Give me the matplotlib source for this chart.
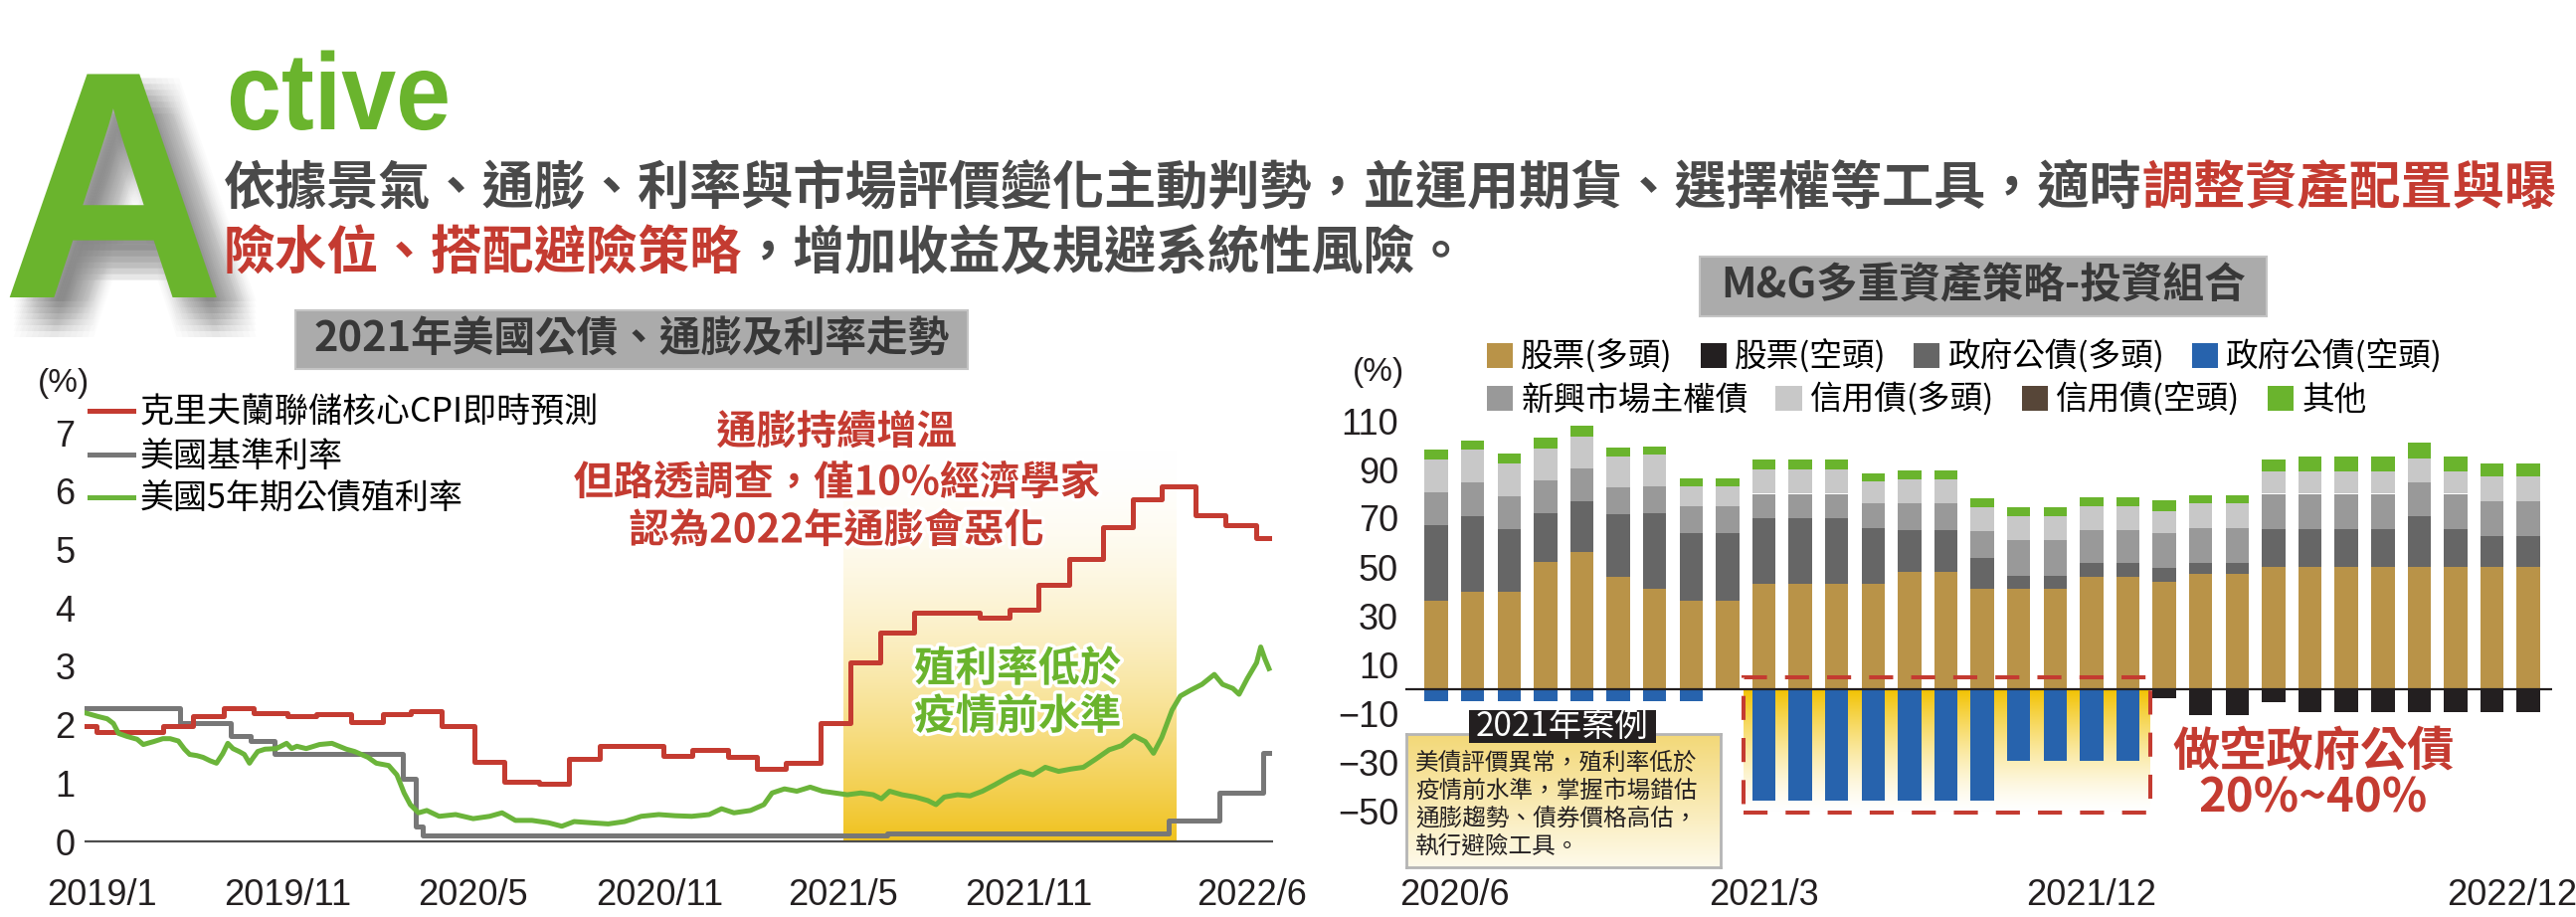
#!/usr/bin/env python3
"""Active management page: US inflation / rates chart and M&G multi-asset allocation bars."""

import numpy as np
import pandas as pd
import matplotlib
matplotlib.use("Agg")
import matplotlib.pyplot as plt
import matplotlib.dates as mdates
import matplotlib.patheffects as pe
from matplotlib.patches import Rectangle
from matplotlib.transforms import Affine2D
from matplotlib.colors import to_rgb, to_rgba

W, H = 2590, 922
CJK = ["Noto Sans CJK TC", "DejaVu Sans"]
NUM = ["Liberation Sans", "DejaVu Sans"]

GREEN = "#6AB42D"
RED = "#C43B31"
DARK = "#4A4A4A"
INK = "#231F20"

# ---- left chart data -------------------------------------------------------
cpi_nowcast = [  # Cleveland Fed core CPI nowcast, monthly steps
    ("2019-05-01", 1.98), ("2019-05-12", 1.88), ("2019-07-15", 1.97), ("2019-08-13", 2.15),
    ("2019-09-12", 2.28), ("2019-10-11", 2.20), ("2019-11-13", 2.14), ("2019-12-11", 2.18),
    ("2020-01-14", 2.05), ("2020-02-13", 2.18), ("2020-03-11", 2.24), ("2020-04-10", 1.98),
    ("2020-05-12", 1.37), ("2020-06-10", 1.02), ("2020-07-14", 0.99), ("2020-08-12", 1.41),
    ("2020-09-11", 1.64), ("2020-10-13", 1.63), ("2020-11-12", 1.46), ("2020-12-10", 1.57),
    ("2021-01-13", 1.44), ("2021-02-10", 1.25), ("2021-03-10", 1.35), ("2021-04-13", 2.03),
    ("2021-05-12", 3.06), ("2021-06-10", 3.57), ("2021-07-13", 3.91), ("2021-09-14", 3.84),
    ("2021-10-13", 3.97), ("2021-11-10", 4.40), ("2021-12-10", 4.84), ("2022-01-12", 5.39),
    ("2022-02-10", 5.86), ("2022-03-10", 6.09), ("2022-04-12", 5.59), ("2022-05-11", 5.41),
    ("2022-06-10", 5.19), ("2022-06-22", 5.19),
]
fed_funds = [
    ("2019-05-01", 2.29), ("2019-08-01", 2.03), ("2019-09-19", 1.80), ("2019-10-08", 1.72),
    ("2019-10-31", 1.50), ("2020-03-04", 1.07), ("2020-03-16", 0.25), ("2020-03-23", 0.10),
    ("2021-06-17", 0.13), ("2022-03-17", 0.36), ("2022-05-05", 0.83), ("2022-06-16", 1.52),
    ("2022-06-22", 1.52),
]
ust5y = [
    ("2019-05-01", 2.20), ("2019-05-13", 2.14), ("2019-05-22", 2.10), ("2019-05-28", 2.02),
    ("2019-06-02", 1.85), ("2019-06-10", 1.80), ("2019-06-20", 1.75), ("2019-06-26", 1.66),
    ("2019-07-06", 1.71), ("2019-07-15", 1.76), ("2019-07-22", 1.76), ("2019-07-30", 1.72),
    ("2019-08-05", 1.58), ("2019-08-10", 1.49), ("2019-08-17", 1.47), ("2019-08-23", 1.44),
    ("2019-08-30", 1.38), ("2019-09-05", 1.34), ("2019-09-11", 1.50), ("2019-09-16", 1.68),
    ("2019-09-21", 1.59), ("2019-09-27", 1.54), ("2019-10-02", 1.49), ("2019-10-07", 1.34),
    ("2019-10-10", 1.42), ("2019-10-15", 1.54), ("2019-10-22", 1.58), ("2019-11-02", 1.59),
    ("2019-11-12", 1.68), ("2019-11-17", 1.59), ("2019-11-22", 1.63), ("2019-12-01", 1.59),
    ("2019-12-14", 1.66), ("2019-12-26", 1.68), ("2020-01-09", 1.58), ("2020-01-17", 1.54),
    ("2020-01-30", 1.44), ("2020-02-07", 1.34), ("2020-02-19", 1.30), ("2020-02-27", 1.14),
    ("2020-03-05", 0.83), ("2020-03-11", 0.63), ("2020-03-19", 0.49), ("2020-03-27", 0.53),
    ("2020-04-08", 0.43), ("2020-04-24", 0.46), ("2020-05-11", 0.39), ("2020-05-27", 0.43),
    ("2020-06-08", 0.49), ("2020-06-21", 0.36), ("2020-07-07", 0.36), ("2020-07-23", 0.32),
    ("2020-08-05", 0.26), ("2020-08-17", 0.34), ("2020-09-02", 0.32), ("2020-09-19", 0.30),
    ("2020-10-05", 0.34), ("2020-10-21", 0.43), ("2020-11-07", 0.46), ("2020-11-23", 0.44),
    ("2020-12-09", 0.43), ("2020-12-26", 0.46), ("2021-01-07", 0.56), ("2021-01-19", 0.49),
    ("2021-02-04", 0.53), ("2021-02-17", 0.63), ("2021-02-25", 0.83), ("2021-03-09", 0.90),
    ("2021-03-21", 0.86), ("2021-04-03", 0.93), ("2021-04-15", 0.86), ("2021-04-27", 0.83),
    ("2021-05-09", 0.80), ("2021-05-22", 0.83), ("2021-06-03", 0.80), ("2021-06-11", 0.73),
    ("2021-06-19", 0.86), ("2021-07-01", 0.80), ("2021-07-14", 0.76), ("2021-07-26", 0.70),
    ("2021-08-03", 0.63), ("2021-08-11", 0.76), ("2021-08-24", 0.80), ("2021-09-05", 0.78),
    ("2021-09-17", 0.86), ("2021-09-29", 0.97), ("2021-10-12", 1.10), ("2021-10-24", 1.20),
    ("2021-11-05", 1.14), ("2021-11-17", 1.27), ("2021-11-30", 1.20), ("2021-12-12", 1.24),
    ("2021-12-24", 1.27), ("2022-01-05", 1.41), ("2022-01-18", 1.57), ("2022-01-30", 1.64),
    ("2022-02-11", 1.81), ("2022-02-22", 1.71), ("2022-03-02", 1.51), ("2022-03-10", 1.78),
    ("2022-03-20", 2.25), ("2022-03-28", 2.49), ("2022-04-07", 2.59), ("2022-04-18", 2.69),
    ("2022-04-30", 2.86), ("2022-05-08", 2.69), ("2022-05-18", 2.62), ("2022-05-24", 2.52),
    ("2022-06-01", 2.79), ("2022-06-10", 3.06), ("2022-06-14", 3.33), ("2022-06-18", 3.13),
    ("2022-06-22", 2.96),
]
left_labels = ["克里夫蘭聯儲核心CPI即時預測", "美國基準利率", "美國5年期公債殖利率"]
left_xticklabels = ["2019/1", "2019/11", "2020/5", "2020/11", "2021/5", "2021/11", "2022/6"]
highlight_span = ("2021-05-05", "2022-03-24")

# ---- right chart data -------------------------------------------------------
months = [f"{p.year}/{p.month}" for p in pd.period_range("2020-06", "2022-12", freq="M")]
equity_long = [36, 40, 40, 52, 56, 46, 41, 36, 36, 43, 43, 43, 43, 48, 48, 41, 41, 41, 46, 46,
               44, 47, 47, 50, 50, 50, 50, 50, 50, 50, 50]
gov_long = [31, 31, 25.5, 20, 21, 25.5, 31, 28, 28, 27, 27, 27, 23, 17, 17, 12.5, 5.5, 5.5, 5.5, 5.5,
            5.5, 4.5, 4.5, 15.5, 15.5, 15.5, 15.5, 21, 15.5, 12.5, 12.5]
em_sovereign = [13.5, 13.5, 13.5, 13.5, 13.5, 11, 11, 11, 11, 10, 10, 10, 10, 11, 11, 11, 14.5, 14.5,
                13.5, 13.5, 14.5, 14.5, 14.5, 14.5, 14.5, 14.5, 14.5, 13.5, 14.5, 14.5, 14.5]
credit_long = [13.5, 13.5, 13.5, 13, 13, 13, 13, 8, 8, 10, 10, 10, 9, 10, 10, 10, 10, 10, 10, 10,
               9, 10, 10, 9, 9, 9, 9, 10, 9, 10, 10]
other = [4, 4, 4, 4.5, 4.5, 3.5, 3.5, 3.5, 3.5, 4, 4, 4, 3.5, 3.5, 3.5, 3.5, 3.5, 3.5, 3.5, 3.5,
         4.5, 3.5, 3.5, 5, 6.5, 6.5, 6.5, 6.5, 6.5, 5.5, 5.5]
gov_short = [-5, -5, -5, -5, -5, -5, -5, -5, 0, -46, -46, -46, -46, -46, -46, -46,
             -29.5, -29.5, -29.5, -29.5, 0, 0, 0, 0, 0, 0, 0, 0, 0, 0, 0]
equity_short = [0, 0, 0, 0, 0, 0, 0, 0, 0, 0, 0, 0, 0, 0, 0, 0, 0, 0, 0, 0,
                -4, -11, -11, -5.5, -9.5, -9.5, -9.5, -9.5, -9.5, -9.5, -9.5]
credit_short = [0] * 31
right_yticks = [110, 90, 70, 50, 30, 10, -10, -30, -50]
right_xticklabels = ["2020/6", "2021/3", "2021/12", "2022/12"]

row1_labels = ["股票(多頭)", "股票(空頭)", "政府公債(多頭)", "政府公債(空頭)"]
row2_labels = ["新興市場主權債", "信用債(多頭)", "信用債(空頭)", "其他"]

body_line1 = [("依據景氣、通膨、利率與市場評價變化主動判勢，並運用期貨、選擇權等工具，適時", DARK),
              ("調整資產配置與曝", RED)]
body_line2 = [("險水位、搭配避險策略", RED), ("，增加收益及規避系統性風險。", DARK)]
note_lines = ["美債評價異常，殖利率低於", "疫情前水準，掌握市場錯估",
              "通膨趨勢、債券價格高估，", "執行避險工具。"]


class Squeeze(pe.AbstractPathEffect):
    """Draw glyphs narrowed horizontally about x0 (display px), optionally recoloured."""

    def __init__(self, sx, x0, offset=(0, 0), color=None, alpha=None):
        super().__init__(offset)
        self.sx, self.x0, self.color, self.alpha = sx, x0, color, alpha

    def draw_path(self, renderer, gc, tpath, affine, rgbFace=None):
        squeeze = Affine2D().translate(-self.x0, 0).scale(self.sx, 1).translate(self.x0, 0)
        gc0 = renderer.new_gc()
        gc0.copy_properties(gc)
        face = rgbFace
        if self.color is not None:
            face = to_rgba(self.color)
        if self.alpha is not None:
            gc0.set_alpha(self.alpha)
        renderer.draw_path(gc0, tpath, affine + squeeze + self._offset_transform(renderer), face)
        gc0.restore()


def fx(px):
    return px / W


def fy(py):
    return 1 - py / H


def px_axes(x0, y0, x1, y1):
    return fig.add_axes([x0 / W, 1 - y1 / H, (x1 - x0) / W, (y1 - y0) / H])


def gray_box(x0, y0, x1, y1, text, size):
    fig.add_artist(Rectangle((fx(x0), fy(y1)), (x1 - x0) / W, (y1 - y0) / H,
                             transform=fig.transFigure, facecolor="#ABABAB", edgecolor="#C4C4C4", lw=1.5))
    fig.text(fx((x0 + x1) / 2), fy((y0 + y1) / 2), text, family=CJK, weight="bold", fontsize=size,
             color="#383838", ha="center", va="center")


def colored_line(x, y, parts, size):
    renderer = fig.canvas.get_renderer()
    for s, c in parts:
        t = fig.text(fx(x), fy(y), s, color=c, fontsize=size, family=CJK, weight="bold",
                     ha="left", va="center")
        x = t.get_window_extent(renderer=renderer).x1


fig = plt.figure(figsize=(W / 100, H / 100), dpi=100)
fig.patch.set_facecolor("white")

# ---- header ------------------------------------------------------------------
A_X, A_SQ = 2, 0.95
shadow = [Squeeze(A_SQ, A_X, offset=(dx * 0.72, -dy * 0.72), color="#5A5A5A", alpha=0.02)
          for dx in range(4, 46, 6) for dy in range(4, 46, 6)]
fig.text(fx(A_X), fy(299), "A", family=NUM, weight="bold", fontsize=235, color=GREEN,
         ha="left", va="baseline", path_effects=shadow + [Squeeze(A_SQ, A_X)])
fig.text(fx(228), fy(130), "ctive", family=NUM, weight="bold", fontsize=79, color=GREEN,
         ha="left", va="baseline", path_effects=[Squeeze(0.9, 228)])
colored_line(225, 189, body_line1, 37.5)
colored_line(225, 255, body_line2, 37.5)

gray_box(297, 312, 973, 371, "2021年美國公債、通膨及利率走勢", 30)
gray_box(1709, 258, 2279, 318, "M&G多重資產策略-投資組合", 30)

# ---- left chart ----------------------------------------------------------------
axL = px_axes(85, 846 - 8.0 * 58.7, 1280, 846 + 0.2 * 58.7)
for s in axL.spines.values():
    s.set_visible(False)

x0, x1 = mdates.date2num(pd.Timestamp(highlight_span[0])), mdates.date2num(pd.Timestamp(highlight_span[1]))
yy = np.linspace(0, 1, 256)[:, None, None]
w = (1 - yy) ** 1.8
band = np.ones((256, 1, 3)) * (1 - w) + np.array(to_rgb("#F0C21E")) * w
axL.imshow(band, origin="lower", extent=(x0, x1, 0, 6.7), aspect="auto", zorder=1,
           interpolation="bilinear")

ffr_x = pd.to_datetime([d for d, _ in fed_funds])
cpi_x = pd.to_datetime([d for d, _ in cpi_nowcast])
y5_x = pd.to_datetime([d for d, _ in ust5y])
l_ffr, = axL.step(ffr_x, [v for _, v in fed_funds], where="post", color="#777777", lw=3.6, zorder=3)
l_cpi, = axL.step(cpi_x, [v for _, v in cpi_nowcast], where="post", color=RED, lw=3.6, zorder=4)
l_y5, = axL.plot(y5_x, [v for _, v in ust5y], color="#6BB43A", lw=3.6, zorder=5)
axL.axhline(0, color="#4D4D4D", lw=1.6, zorder=6)

axL.set_xlim(pd.Timestamp("2019-04-30"), pd.Timestamp("2022-06-26"))
axL.set_ylim(-0.2, 8.0)
axL.set_yticks(range(0, 8))
tick_dates = pd.to_datetime(["2019-05-17", "2019-11-13", "2020-05-11", "2020-11-08",
                             "2021-05-05", "2021-11-01", "2022-06-05"])
axL.set_xticks(tick_dates)
axL.set_xticklabels(left_xticklabels)
axL.tick_params(axis="both", length=0, labelsize=26, labelcolor=INK)
axL.tick_params(axis="y", pad=7)
axL.tick_params(axis="x", pad=18)
for lab in axL.get_xticklabels() + axL.get_yticklabels():
    lab.set_family(NUM)

axL.legend([l_cpi, l_ffr, l_y5], left_labels, loc="upper left", bbox_to_anchor=(fx(90), fy(398)),
           bbox_transform=fig.transFigure, frameon=False, prop=dict(family=CJK, size=24.5),
           handlelength=1.3, handletextpad=0.2, labelspacing=0.25, borderpad=0, borderaxespad=0)
fig.text(fx(64), fy(385), "(%)", family=NUM, fontsize=24, color=INK, ha="center", va="center")

glow = [pe.withStroke(linewidth=5, foreground="white")]
for txt, yc in zip(["通膨持續增溫", "但路透調查，僅10%經濟學家", "認為2022年通膨會惡化"], [435, 486, 534]):
    fig.text(fx(841), fy(yc), txt, family=CJK, weight="bold", fontsize=29, color=RED,
             ha="center", va="center", path_effects=glow)
for txt, yc in zip(["殖利率低於", "疫情前水準"], [673, 721]):
    fig.text(fx(1023), fy(yc), txt, family=CJK, weight="bold", fontsize=30, color="#6AB42D",
             ha="center", va="center", path_effects=glow)

# ---- right chart ---------------------------------------------------------------
axR = px_axes(1413, 692.5 - 118 * 2.45, 2566, 692.5 + 60 * 2.45)
for s in axR.spines.values():
    s.set_visible(False)
x = np.arange(len(months))
bw = 0.64

yy = np.linspace(0, 1, 256)[:, None, None]
w = yy ** 1.4
fade = np.ones((256, 1, 3)) * (1 - w) + np.array(to_rgb("#F2C200")) * w
axR.imshow(fade, origin="lower", extent=(8.45, 19.62, -50.5, 0), aspect="auto", zorder=1,
           interpolation="bilinear")

eq = np.array(equity_long, dtype=float)
gl = np.array(gov_long, dtype=float)
em = np.array(em_sovereign, dtype=float)
cl = np.array(credit_long, dtype=float)
b_eql = axR.bar(x, eq, bw, color="#B99348", zorder=2)
b_gl = axR.bar(x, gl, bw, bottom=eq, color="#666666", zorder=2)
b_em = axR.bar(x, em, bw, bottom=eq + gl, color="#999999", zorder=2)
b_cl = axR.bar(x, cl, bw, bottom=eq + gl + em, color="#C8C8C8", zorder=2)
b_oth = axR.bar(x, other, bw, bottom=eq + gl + em + cl, color="#6AB42D", zorder=2)
b_gs = axR.bar(x, gov_short, bw, color="#2763AD", zorder=2)
b_eqs = axR.bar(x, equity_short, bw, bottom=gov_short, color="#231F20", zorder=2)
b_cs = axR.bar(x, credit_short, bw, color="#574638", zorder=2)
axR.axhline(0, color=INK, lw=1.6, zorder=4)
axR.add_patch(Rectangle((8.45, -51.0), 19.62 - 8.45, 55.5, fill=False, edgecolor=RED, lw=2.9,
                        linestyle=(0, (6, 4.5)), zorder=5))

axR.set_xlim(-0.85, 30.65)
axR.set_ylim(-60, 118)
axR.set_yticks(right_yticks)
axR.set_xticks([0.5, 9, 18, 29.55])
axR.set_xticklabels(right_xticklabels)
axR.tick_params(axis="both", length=0, labelsize=26, labelcolor=INK)
axR.tick_params(axis="y", pad=5)
axR.tick_params(axis="x", pad=31)
for lab in axR.get_xticklabels() + axR.get_yticklabels():
    lab.set_family(NUM)
fig.text(fx(1386), fy(374), "(%)", family=NUM, fontsize=24, color=INK, ha="center", va="center")

leg_kw = dict(loc="center left", ncol=4, frameon=False, prop=dict(family=CJK, size=23.5),
              handlelength=0.8, handleheight=0.8, handletextpad=0.25, columnspacing=0.85,
              borderpad=0, borderaxespad=0)
fig.legend([b_eql, b_eqs, b_gl, b_gs], row1_labels, bbox_to_anchor=(fx(1495), fy(359)), **leg_kw)
fig.legend([b_em, b_cl, b_cs, b_oth], row2_labels, bbox_to_anchor=(fx(1495), fy(402)), **leg_kw)

# case-study note box
axN = px_axes(1414, 738, 1730, 872)
yy = np.linspace(0, 1, 128)[:, None, None]
note_grad = np.array(to_rgb("#FEFAEA")) * (1 - yy) + np.array(to_rgb("#F3D877")) * yy
axN.imshow(note_grad, origin="lower", extent=(0, 1, 0, 1), aspect="auto", interpolation="bilinear")
axN.set_xticks([])
axN.set_yticks([])
for s in axN.spines.values():
    s.set_color("#B5B5B5")
    s.set_linewidth(2)
for txt, yc in zip(note_lines, [767, 795, 823, 851]):
    fig.text(fx(1423), fy(yc), txt, family=CJK, fontsize=17, color=INK, ha="left", va="center")
fig.add_artist(Rectangle((fx(1477), fy(747)), (1665 - 1477) / W, (747 - 714) / H,
                         transform=fig.transFigure, facecolor=INK, edgecolor="none"))
fig.text(fx(1571), fy(730), "2021年案例", family=CJK, fontsize=24, color="white",
         ha="center", va="center")

fig.text(fx(2326), fy(756), "做空政府公債", family=CJK, weight="bold", fontsize=34, color=RED,
         ha="center", va="center")
fig.text(fx(2326), fy(802), "20%~40%", family=CJK, weight="bold", fontsize=34, color=RED,
         ha="center", va="center")

fig.savefig("out.png", dpi=100)
